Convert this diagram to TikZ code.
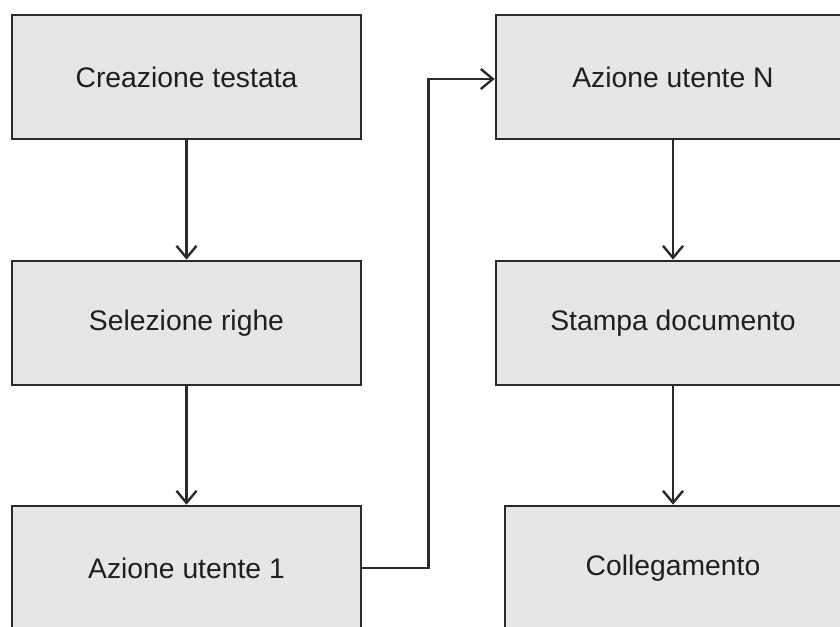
\documentclass[tikz,border=0pt]{standalone}
\usepackage{fontspec}
\setmainfont{Liberation Sans}
\usetikzlibrary{arrows.meta}
\definecolor{boxfill}{HTML}{E6E6E8}
\definecolor{linec}{HTML}{2A2A2A}
\tikzset{
  stepbox/.style={draw=linec, line width=2.6pt, fill=boxfill, rectangle, inner sep=0pt,
    font=\fontsize{28.3}{34}\selectfont, text=black!88},
  conn/.style={draw=linec, line width=2.4pt, -{Straight Barb[length=12pt,width=20pt,line width=2.4pt]}}
}
\begin{document}
\begin{tikzpicture}[x=1pt,y=-1pt]
\useasboundingbox (0,0) rectangle (840,626);
\clip (0,0) rectangle (840,626);
\node[stepbox, minimum width=349pt, minimum height=124pt] (ct) at (186.5,77) {Creazione testata};
\node[stepbox, minimum width=349pt, minimum height=124pt] (sr) at (186.5,323) {Selezione righe};
\node[stepbox, minimum width=349pt, minimum height=124pt] (a1) at (186.5,568) {Azione utente 1};
\node[stepbox, minimum width=354pt, minimum height=124pt] (an) at (673,77) {Azione utente N\hspace{8pt}};
\node[stepbox, minimum width=354pt, minimum height=124pt] (sd) at (673,323) {Stampa documento\hspace{6pt}};
\node[stepbox, minimum width=336pt, minimum height=124pt] (co) at (673,568) {Collegamento\hspace{12pt}};
\draw[conn] (ct.south) -- (sr.north);
\draw[conn] (sr.south) -- (a1.north);
\draw[conn] (an.south) -- (sd.north);
\draw[conn] (sd.south) -- (co.north);
\draw[conn] (a1.east) -- ++(66,0) |- ([yshift=-2pt]an.west);
\end{tikzpicture}
\end{document}
